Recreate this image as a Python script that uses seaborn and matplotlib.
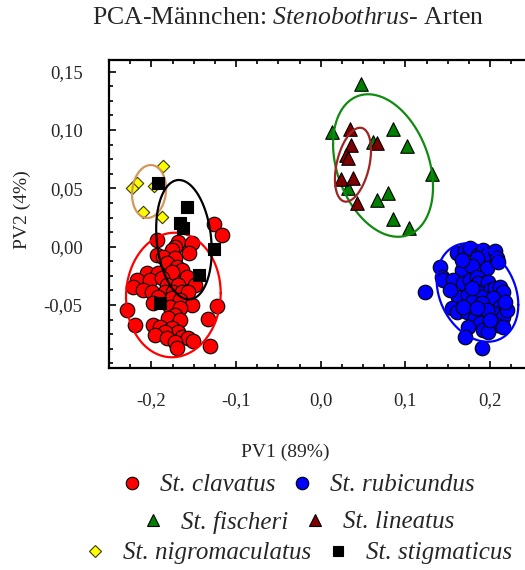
import numpy as np
import pandas as pd
import matplotlib
matplotlib.use("Agg")
import matplotlib.pyplot as plt
from matplotlib.lines import Line2D
from matplotlib.ticker import MultipleLocator, FixedLocator, FuncFormatter
import seaborn as sns

# ---- PCA scores (PV1, PV2) per species ----
clavatus_x = [-0.1260, -0.1169, -0.1936, -0.1681, -0.1720, -0.1523, -0.1759, -0.1936, -0.1551,
              -0.1858, -0.1720, -0.1818, -0.1700, -0.1641, -0.2054, -0.1917, -0.1759, -0.2172,
              -0.2015, -0.1877, -0.1582, -0.2213, -0.2094, -0.1818, -0.1681, -0.1484, -0.1995,
              -0.1838, -0.1740, -0.1641, -0.1563, -0.1917, -0.1759, -0.1661, -0.1976, -0.1523,
              -0.1779, -0.1661, -0.2290, -0.1228, -0.1720, -0.1799, -0.1661, -0.2192, -0.1327,
              -0.1976, -0.1897, -0.1759, -0.1681, -0.1838, -0.1956, -0.1818, -0.1641, -0.1563,
              -0.1504, -0.1720, -0.1307, -0.1700]
clavatus_y = [0.0195, 0.0100, 0.0057, 0.0043, 0.0000, 0.0034, -0.0028, -0.0071, -0.0057,
              -0.0086, -0.0099, -0.0142, -0.0172, -0.0200, -0.0228, -0.0228, -0.0214, -0.0286,
              -0.0286, -0.0271, -0.0257, -0.0343, -0.0371, -0.0328, -0.0328, -0.0328, -0.0386,
              -0.0386, -0.0386, -0.0386, -0.0386, -0.0429, -0.0443, -0.0457, -0.0485, -0.0500,
              -0.0515, -0.0528, -0.0543, -0.0509, -0.0586, -0.0614, -0.0629, -0.0671, -0.0623,
              -0.0671, -0.0691, -0.0700, -0.0729, -0.0729, -0.0757, -0.0786, -0.0772, -0.0786,
              -0.0806, -0.0815, -0.0849, -0.0871]

rubicundus_x = [0.1606, 0.1705, 0.1764, 0.1861, 0.1920, 0.1967, 0.2058, 0.2078, 0.1842,
                0.1409, 0.1429, 0.1447, 0.1231, 0.1665, 0.1783, 0.1960, 0.2097, 0.1566,
                0.1684, 0.1763, 0.1842, 0.1861, 0.1979, 0.1999, 0.2058, 0.2117, 0.2156,
                0.1625, 0.1743, 0.1842, 0.1901, 0.2038, 0.1547, 0.1606, 0.1724, 0.1783,
                0.1901, 0.2117, 0.2038, 0.2156, 0.2196, 0.1822, 0.1881, 0.1743, 0.1979,
                0.1920, 0.2078, 0.2156, 0.1704, 0.1979, 0.1901, 0.1665, 0.2176, 0.1783,
                0.1527, 0.1684, 0.1960, 0.1842, 0.1999]
rubicundus_y = [-0.0051, -0.0028, -0.0014, -0.0071, -0.0028, -0.0071, -0.0034, -0.0099, -0.0099,
                -0.0177, -0.0257, -0.0286, -0.0386, -0.0200, -0.0166, -0.0185, -0.0129, -0.0286,
                -0.0314, -0.0286, -0.0257, -0.0314, -0.0300, -0.0371, -0.0357, -0.0343, -0.0386,
                -0.0429, -0.0414, -0.0386, -0.0429, -0.0443, -0.0528, -0.0557, -0.0557, -0.0472,
                -0.0485, -0.0515, -0.0571, -0.0600, -0.0543, -0.0614, -0.0657, -0.0686, -0.0686,
                -0.0714, -0.0672, -0.0686, -0.0772, -0.0729, -0.0866, -0.0114, -0.0472, -0.0357,
                -0.0371, -0.0515, -0.0543, -0.0528, -0.0629]

fischeri_x = [0.0476, 0.0137, 0.0857, 0.0614, 0.1015, 0.1311, 0.0326, 0.0798, 0.0668, 0.0857, 0.1039]
fischeri_y = [0.1395, 0.0986, 0.1007, 0.0901, 0.0864, 0.0621, 0.0501, 0.0458, 0.0401, 0.0238, 0.0158]

lineatus_x = [0.0346, 0.0668, 0.0354, 0.0299, 0.0326, 0.0236, 0.0378, 0.0425]
lineatus_y = [0.1007, 0.0887, 0.0872, 0.0786, 0.0758, 0.0578, 0.0587, 0.0377]

nigromaculatus_x = [-0.1858, -0.2172, -0.2231, -0.1968, -0.2094, -0.1877]
nigromaculatus_y = [0.0695, 0.0549, 0.0501, 0.0521, 0.0295, 0.0252]

stigmaticus_x = [-0.1917, -0.1575, -0.1661, -0.1622, -0.1256, -0.1440, -0.1897]
stigmaticus_y = [0.0544, 0.0343, 0.0206, 0.0158, -0.0022, -0.0245, -0.0485]

# ---- group ellipses: centre, half extents along PV1/PV2, correlation ----
species = ["St. clavatus", "St. rubicundus", "St. fischeri", "St. lineatus",
           "St. nigromaculatus", "St. stigmaticus"]
ell_cx = [-0.1740, 0.1851, 0.0736, 0.0381, -0.2027, -0.1615]
ell_cy = [-0.0414, -0.0393, 0.0696, 0.0703, 0.0473, 0.0060]
ell_rx = [0.0559, 0.0482, 0.0590, 0.0213, 0.0201, 0.0328]
ell_ry = [0.0534, 0.0422, 0.0611, 0.0317, 0.0227, 0.0512]
ell_rho = [0.03, -0.25, -0.30, 0.39, 0.10, -0.18]

# axis tick values
x_ticks = [-0.2, -0.1, 0.0, 0.1, 0.2]
y_ticks = [-0.05, 0.0, 0.05, 0.10, 0.15]

xs = [clavatus_x, rubicundus_x, fischeri_x, lineatus_x, nigromaculatus_x, stigmaticus_x]
ys = [clavatus_y, rubicundus_y, fischeri_y, lineatus_y, nigromaculatus_y, stigmaticus_y]

# ---- styling ----
fill_colors = ["#ff0000", "#0000ff", "#007f00", "#7f0000", "#ffff00", "#000000"]
edge_colors = ["#000000", "#000000", "#000000", "#000000", "#3a3a00", "#000000"]
ell_colors = ["#ff0000", "#0000ff", "#108a10", "#a02424", "#d4975a", "#000000"]
markers = ["o", "o", "^", "^", "D", "s"]
sizes = [110, 110, 95, 95, 40, 80]
leg_ms = [9, 9, 8.5, 8.5, 6.5, 7.5]

sns.set_style("white")
plt.rcParams["font.family"] = ["Liberation Serif", "DejaVu Serif"]
plt.rcParams["mathtext.fontset"] = "custom"
plt.rcParams["mathtext.rm"] = "Liberation Serif"
plt.rcParams["mathtext.it"] = "Liberation Serif:italic"

fig = plt.figure(figsize=(5.25, 5.7), dpi=100)
ax = fig.add_axes([0.2076, 0.3544, 0.7924, 0.5404])

t = np.linspace(0, 2 * np.pi, 300)
for i, name in enumerate(species):
    df = pd.DataFrame({"PV1": xs[i], "PV2": ys[i]})
    sns.scatterplot(data=df, x="PV1", y="PV2", ax=ax, marker=markers[i], s=sizes[i],
                    color=fill_colors[i], edgecolor=edge_colors[i], linewidth=0.8,
                    legend=False, zorder=3 + i)
    ex = ell_cx[i] + ell_rx[i] * np.cos(t)
    ey = ell_cy[i] + ell_ry[i] * (ell_rho[i] * np.cos(t) + np.sqrt(1 - ell_rho[i] ** 2) * np.sin(t))
    ax.plot(ex, ey, color=ell_colors[i], lw=1.6, zorder=3 + i)

ax.set_xlim(-0.250, 0.2412)
ax.set_ylim(-0.104, 0.1601)
ax.set_xlabel("")
ax.set_ylabel("")

ax.xaxis.set_major_locator(FixedLocator(x_ticks))
ax.xaxis.set_minor_locator(MultipleLocator(0.025))
ax.yaxis.set_major_locator(FixedLocator(y_ticks))
ax.yaxis.set_minor_locator(MultipleLocator(0.0125))


def comma_fmt(decimals):
    def f(v, pos):
        s = f"{v:.{decimals}f}"
        if s.startswith("-") and float(s) == 0:
            s = s[1:]
        return s.replace(".", ",")
    return FuncFormatter(f)


ax.xaxis.set_major_formatter(comma_fmt(1))
ax.yaxis.set_major_formatter(comma_fmt(2))

for side in ["left", "bottom", "top"]:
    ax.spines[side].set_visible(True)
    ax.spines[side].set_linewidth(1.6)
    ax.spines[side].set_color("black")
ax.spines["right"].set_visible(False)

ax.tick_params(which="both", direction="in", bottom=True, top=True, left=True, right=False,
               color="black", width=1.2)
ax.tick_params(which="major", length=5)
ax.tick_params(which="minor", length=3)
ax.tick_params(axis="x", which="major", pad=17, labelsize=13.5)
ax.tick_params(axis="y", which="major", pad=19, labelsize=13.5)

# title and axis titles
fig.text(0.549, 0.969, r"PCA-Männchen: $\mathit{Stenobothrus}$- Arten",
         ha="center", va="center", fontsize=18.5)
fig.text(0.543, 0.207, "PV1 (89%)", ha="center", va="center", fontsize=14)
fig.text(0.043, 0.633, "PV2 (4%)", ha="center", va="center", rotation=90, fontsize=14)

# legend: three centred rows of two entries
handles = [Line2D([], [], linestyle="", marker=markers[i], markersize=leg_ms[i],
                  markerfacecolor=fill_colors[i], markeredgecolor=edge_colors[i],
                  markeredgewidth=0.8) for i in range(6)]
rows_y = [1 - 485 / 570, 1 - 522 / 570, 1 - 553 / 570]
for r in range(3):
    fig.legend(handles[2 * r:2 * r + 2], species[2 * r:2 * r + 2], ncol=2,
               loc="center", bbox_to_anchor=(0.569, rows_y[r]), frameon=False,
               prop={"family": "Liberation Serif", "style": "italic", "size": 18},
               handlelength=0.8, handletextpad=0.72, columnspacing=0.66,
               borderpad=0, borderaxespad=0)

fig.savefig("out.png", dpi=100)
